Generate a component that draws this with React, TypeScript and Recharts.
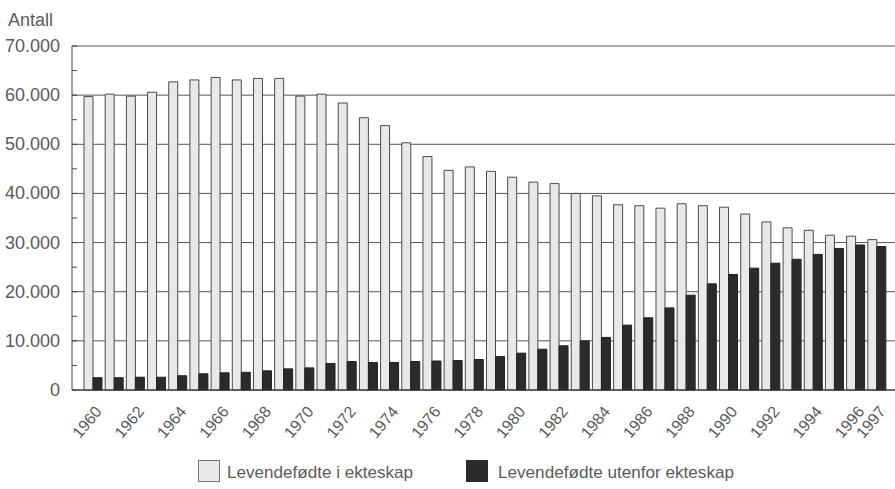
import React from 'react';
import { Bar, BarChart, CartesianGrid, Legend, XAxis, YAxis } from 'recharts';

const years = [
    '1960', '1961', '1962', '1963', '1964', '1965', '1966', '1967', '1968', '1969',
    '1970', '1971', '1972', '1973', '1974', '1975', '1976', '1977', '1978', '1979',
    '1980', '1981', '1982', '1983', '1984', '1985', '1986', '1987', '1988', '1989',
    '1990', '1991', '1992', '1993', '1994', '1995', '1996', '1997'
];

const insideMarriage = [
    59700, 60200, 59800, 60600, 62700, 63100, 63600, 63100, 63400, 63400,
    59800, 60200, 58400, 55400, 53800, 50300, 47500, 44700, 45400, 44500,
    43300, 42300, 42000, 40000, 39500, 37700, 37500, 37000, 37900, 37500,
    37200, 35800, 34200, 33000, 32500, 31500, 31300, 30600
];

const outsideMarriage = [
    2500, 2500, 2600, 2600, 2900, 3300, 3500, 3600, 3900, 4300,
    4500, 5400, 5800, 5600, 5600, 5800, 5900, 6000, 6200, 6800,
    7500, 8300, 9000, 10000, 10700, 13200, 14700, 16700, 19300, 21600,
    23500, 24800, 25800, 26600, 27600, 28800, 29500, 29200
];

const labelledYears = [
    '1960', '1962', '1964', '1966', '1968', '1970', '1972', '1974', '1976', '1978',
    '1980', '1982', '1984', '1986', '1988', '1990', '1992', '1994', '1996', '1997'
];

const yTicks = [0, 5000, 10000, 15000, 20000, 25000, 30000, 35000, 40000, 45000, 50000, 55000, 60000, 65000, 70000];
const gridValues = [0, 10000, 20000, 30000, 40000, 50000, 60000, 70000];

const seriesNames = ['Levendefødte i ekteskap', 'Levendefødte utenfor ekteskap'];

const data = years.map((year, i) => ({
    year,
    inside: insideMarriage[i],
    outside: outsideMarriage[i]
}));

const FONT = '"Liberation Sans", Arial, sans-serif';
const TEXT = '#5a5a5a';

const formatThousands = (v: number) =>
    v === 0 ? '0' : v.toString().replace(/\B(?=(\d{3})+(?!\d))/g, '.');

const YTick = (props: any) => {
    const { x, y, payload } = props;
    const major = payload.value % 10000 === 0;
    return (
        <g>
            <line x1={72} x2={77} y1={y} y2={y} stroke="#444" strokeWidth={1} />
            {major && (
                <text x={x} y={y} dy={6} textAnchor="end" fontSize={18} fill={TEXT} fontFamily={FONT}>
                    {formatThousands(payload.value)}
                </text>
            )}
        </g>
    );
};

const XTick = (props: any) => {
    const { x, y, payload } = props;
    if (!labelledYears.includes(payload.value)) return <g />;
    const tx = x + 10;
    const ty = y + 14;
    return (
        <text
            x={tx}
            y={ty}
            textAnchor="end"
            fontSize={16}
            fill={TEXT}
            fontFamily={FONT}
            transform={`rotate(-50, ${tx}, ${ty})`}
        >
            {payload.value}
        </text>
    );
};

const AxisTitle = () => (
    <text x={8} y={26} fontSize={18} fill={TEXT} fontFamily={FONT}>
        Antall
    </text>
);

const renderLegend = () => (
    <svg width={895} height={39} style={{ display: 'block' }}>
        <rect x={198.5} y={10.5} width={21} height={21} fill="#e8e8e8" stroke="#777" />
        <text x={227} y={28} fontSize={17} fill={TEXT} fontFamily={FONT} textLength={186} lengthAdjust="spacingAndGlyphs">
            {seriesNames[0]}
        </text>
        <rect x={466} y={10} width={22} height={22} fill="#2b2b2b" />
        <text x={498} y={28} fontSize={17} fill={TEXT} fontFamily={FONT} textLength={236} lengthAdjust="spacingAndGlyphs">
            {seriesNames[1]}
        </text>
    </svg>
);

export default function App() {
    return (
        <div style={{ position: 'absolute', left: 0, top: 0, background: '#fff' }}>
            <BarChart
                width={895}
                height={489}
                data={data}
                margin={{ top: 46, right: 0, bottom: 0, left: 0 }}
                barGap={0}
                barSize={9}
            >
                <CartesianGrid vertical={false} horizontalValues={gridValues} stroke="#555" strokeWidth={1} />
                <XAxis
                    dataKey="year"
                    interval={0}
                    height={60}
                    tick={<XTick />}
                    tickLine={false}
                    axisLine={{ stroke: '#333' }}
                    padding={{ left: 10, right: 8 }}
                />
                <YAxis
                    width={72}
                    domain={[0, 70000]}
                    ticks={yTicks}
                    interval={0}
                    tick={<YTick />}
                    tickLine={false}
                    tickSize={0}
                    tickMargin={12}
                    axisLine={{ stroke: '#444' }}
                    label={<AxisTitle />}
                />
                <Legend verticalAlign="bottom" height={39} content={renderLegend} wrapperStyle={{ left: 0, bottom: 0, width: 895 }} />
                <Bar dataKey="inside" name={seriesNames[0]} fill="#e8e8e8" stroke="#4a4a4a" strokeWidth={1} isAnimationActive={false} />
                <Bar dataKey="outside" name={seriesNames[1]} fill="#2b2b2b" stroke="#222" strokeWidth={1} isAnimationActive={false} />
            </BarChart>
        </div>
    );
}
